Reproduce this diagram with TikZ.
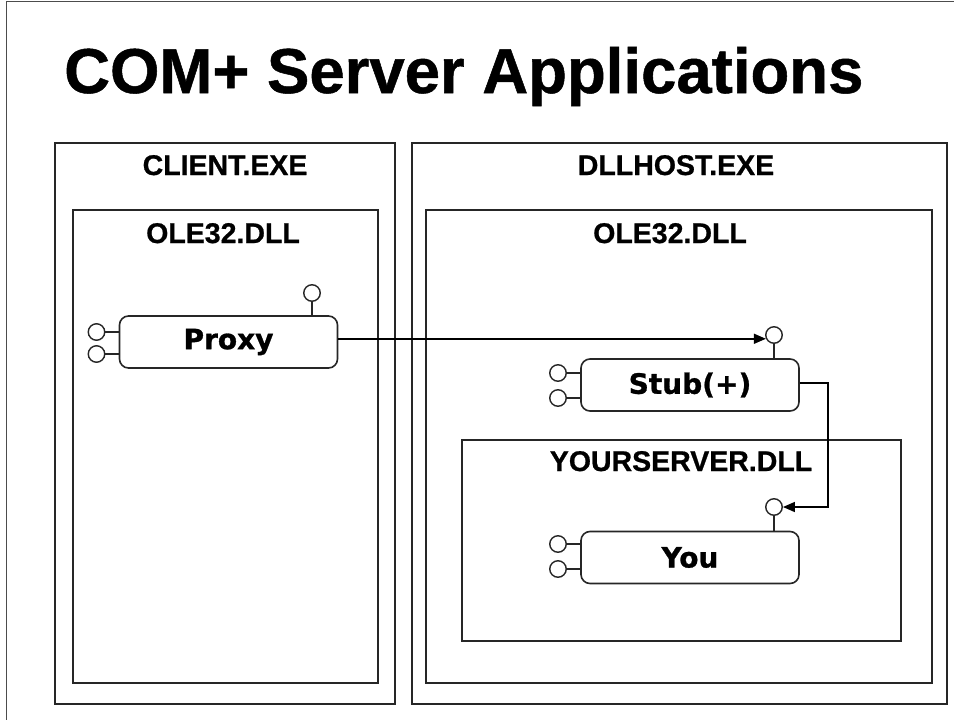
\documentclass[tikz,border=0pt]{standalone}
\usepackage{fontspec}
\setmainfont{Liberation Sans}[BoldFeatures={FakeBold=0.8}]
\newfontfamily\compfont{DejaVu Sans}[BoldFeatures={FakeBold=1.0}]
\usetikzlibrary{arrows.meta,calc}

\tikzset{
  frame/.style={draw=black!85, line width=1.9pt},
  boxlabel/.style={anchor=base, font=\fontsize{28.5}{30}\selectfont\bfseries, inner sep=0pt},
  comp/.style={draw=black!85, line width=1.6pt, rounded corners=9pt, minimum width=218pt,
    minimum height=52pt, inner sep=0pt, font=\compfont\fontsize{28}{30}\selectfont\bfseries},
  lolly/.style={circle, draw=black!85, line width=1.4pt, fill=white, minimum size=16.5pt, inner sep=0pt},
  stem/.style={draw=black!85, line width=1.5pt},
  wire/.style={draw=black, line width=1.5pt},
  tip/.style={-{Triangle[length=12pt,width=10pt]}}
}

\begin{document}
\begin{tikzpicture}[x=1pt,y=-1pt]
  \useasboundingbox (0,0) rectangle (954,720);

  % page edge
  \draw[black!70, line width=1.4pt] (6.5,720) -- (6.5,1.5) -- (954,1.5);

  % title
  \node[anchor=base west, inner sep=0pt] (title) at (64,93)
    {\fontsize{63.5}{70}\selectfont\bfseries COM+ Server Applications};

  % process and module frames
  \draw[frame] (55,143) rectangle (395,704);
  \draw[frame] (73,210) rectangle (378,683);
  \draw[frame] (412,143) rectangle (947,704);
  \draw[frame] (426,210) rectangle (932,683);
  \draw[frame] (462,440) rectangle (901,641);

  \node[boxlabel] (clientexe) at (225,175) {CLIENT.EXE};
  \node[boxlabel] (ole32c) at (223,243) {OLE32.DLL};
  \node[boxlabel] (dllhost) at (676,175) {DLLHOST.EXE};
  \node[boxlabel] (ole32s) at (670,243) {OLE32.DLL};
  \node[boxlabel] (yourdll) at (681,471) {YOURSERVER.DLL};

  % components
  \node[comp] (proxy) at (228.5,342) {Proxy};
  \node[comp] (stub) at (690,385) {Stub(+)};
  \node[comp] (you) at (690,557.5) {You};

  % interface lollipops: Proxy
  \node[lolly] (pxa) at (96.5,332) {};
  \node[lolly] (pxb) at (96.5,354) {};
  \node[lolly] (pxt) at (312,293) {};
  \draw[stem] (pxa.east) -- (pxa.east -| proxy.west);
  \draw[stem] (pxb.east) -- (pxb.east -| proxy.west);
  \draw[stem] (pxt.south) -- (pxt.south |- proxy.north);

  % interface lollipops: Stub
  \node[lolly] (sta) at (558,373) {};
  \node[lolly] (stb) at (558,398) {};
  \node[lolly] (stt) at (774,335) {};
  \draw[stem] (sta.east) -- (sta.east -| stub.west);
  \draw[stem] (stb.east) -- (stb.east -| stub.west);
  \draw[stem] (stt.south) -- (stt.south |- stub.north);

  % interface lollipops: You
  \node[lolly] (yoa) at (558,544) {};
  \node[lolly] (yob) at (558,569) {};
  \node[lolly] (yot) at (774,507) {};
  \draw[stem] (yoa.east) -- (yoa.east -| you.west);
  \draw[stem] (yob.east) -- (yob.east -| you.west);
  \draw[stem] (yot.south) -- (yot.south |- you.north);

  % calls
  \draw[wire, tip] (proxy.east |- stt.205) -- (stt.205);
  \coordinate (sout) at ($(stub.east)+(0,-2)$);
  \coordinate (bend) at (828,0);
  \draw[wire, tip] (sout) -- (sout -| bend) |- (yot.east);
\end{tikzpicture}
\end{document}
